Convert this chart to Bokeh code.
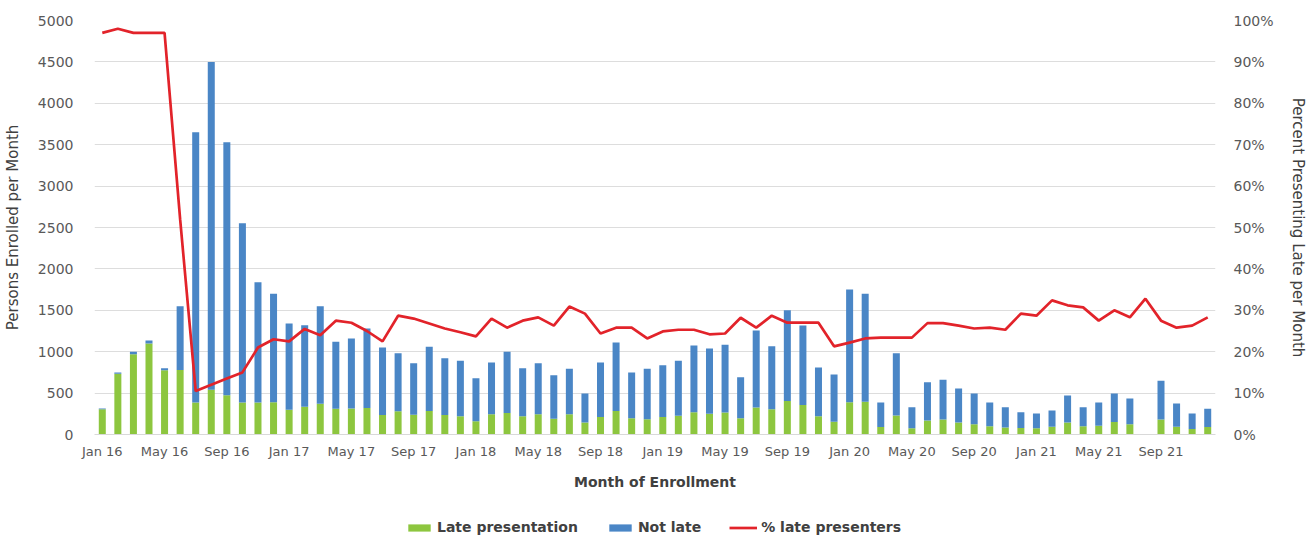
from bokeh.plotting import figure
from bokeh.layouts import column
from bokeh.models import (Range1d, LinearAxis, FixedTicker, PrintfTickFormatter,
                          Legend, LegendItem, ColumnDataSource)
from bokeh.embed import file_html
from bokeh.resources import INLINE

months = ["Jan 16","Feb 16","Mar 16","Apr 16","May 16","Jun 16","Jul 16","Aug 16","Sep 16","Oct 16","Nov 16","Dec 16",
          "Jan 17","Feb 17","Mar 17","Apr 17","May 17","Jun 17","Jul 17","Aug 17","Sep 17","Oct 17","Nov 17","Dec 17",
          "Jan 18","Feb 18","Mar 18","Apr 18","May 18","Jun 18","Jul 18","Aug 18","Sep 18","Oct 18","Nov 18","Dec 18",
          "Jan 19","Feb 19","Mar 19","Apr 19","May 19","Jun 19","Jul 19","Aug 19","Sep 19","Oct 19","Nov 19","Dec 19",
          "Jan 20","Feb 20","Mar 20","Apr 20","May 20","Jun 20","Jul 20","Aug 20","Sep 20","Oct 20","Nov 20","Dec 20",
          "Jan 21","Feb 21","Mar 21","Apr 21","May 21","Jun 21","Jul 21","Aug 21","Sep 21","Oct 21","Nov 21","Dec 21"]

late = [305, 735, 970, 1100, 775, 780, 385, 540, 475, 385, 385, 390,
        300, 335, 370, 310, 315, 320, 235, 280, 240, 285, 235, 220,
        160, 245, 260, 220, 245, 190, 245, 145, 210, 285, 195, 185,
        210, 225, 270, 250, 265, 195, 325, 305, 405, 355, 220, 155,
        390, 395, 90, 230, 75, 170, 180, 145, 125, 100, 85, 80,
        75, 95, 145, 100, 105, 150, 125, 0, 180, 95, 65, 90]

not_late = [10, 15, 30, 35, 25, 770, 3265, 3960, 3055, 2165, 1455, 1310,
            1040, 985, 1180, 810, 845, 960, 815, 700, 620, 775, 685, 670,
            520, 625, 740, 580, 615, 525, 550, 350, 660, 825, 555, 610,
            625, 665, 805, 790, 820, 495, 930, 760, 1095, 960, 590, 570,
            1360, 1305, 295, 750, 255, 460, 480, 410, 370, 285, 245, 190,
            180, 195, 325, 230, 280, 345, 310, 0, 470, 280, 190, 220]

pct_late = [97, 98, 97, 97, 97, 52, 10.5, 12, 13.5, 15, 21, 23,
            22.5, 25.5, 24, 27.5, 27, 25, 22.5, 28.7, 28, 26.8, 25.6, 24.7,
            23.7, 28, 25.8, 27.5, 28.3, 26.3, 30.9, 29.2, 24.4, 25.8, 25.8, 23.2,
            24.9, 25.3, 25.3, 24.2, 24.4, 28.2, 25.8, 28.7, 27, 27, 27, 21.3,
            22.2, 23.2, 23.4, 23.4, 23.4, 26.9, 26.9, 26.3, 25.6, 25.8, 25.3, 29.2,
            28.7, 32.4, 31.2, 30.7, 27.5, 30, 28.3, 32.8, 27.5, 25.8, 26.3, 28.3]

tick_labels = ["Jan 16","May 16","Sep 16","Jan 17","May 17","Sep 17","Jan 18","May 18","Sep 18",
               "Jan 19","May 19","Sep 19","Jan 20","May 20","Sep 20","Jan 21","May 21","Sep 21"]

series_names = ["Late presentation", "Not late", "% late presenters"]

idx = list(range(len(months)))
tick_pos = [months.index(t) for t in tick_labels]

src = ColumnDataSource(dict(x=idx, late=late, not_late=not_late, pct=pct_late))

FONT = "DejaVu Sans"
GREEN = "#8DC63F"
BLUE = "#4A86C6"
RED = "#E2232A"
TXT = "#595959"

W = 1309
p = figure(width=W, height=516, output_backend="svg", toolbar_location=None,
           x_range=Range1d(-0.5, len(months) - 0.5), y_range=Range1d(0, 5000),
           min_border_left=92, min_border_right=93, min_border_top=20, min_border_bottom=82)
p.outline_line_color = None
p.extra_y_ranges = {"pct": Range1d(0, 100)}

bars = p.vbar_stack(["late", "not_late"], x="x", width=0.45, source=src,
                    color=[GREEN, BLUE], line_color=None)
ln = p.line("x", "pct", source=src, y_range_name="pct", line_color=RED, line_width=2.7)

# axes
p.xaxis.ticker = FixedTicker(ticks=tick_pos)
p.xaxis.major_label_overrides = {i: t for i, t in zip(tick_pos, tick_labels)}
p.xaxis.axis_label = "Month of Enrollment"
p.xaxis.axis_label_text_font_style = "bold"
p.xaxis.axis_label_text_font_size = "14px"
p.xaxis.axis_label_standoff = 12
p.xaxis.major_label_text_font_size = "13px"
p.xaxis.major_label_standoff = 3
p.xaxis.axis_line_color = "#D9D9D9"
p.xaxis.major_tick_line_color = None
p.xaxis.minor_tick_line_color = None

p.yaxis.ticker = FixedTicker(ticks=list(range(0, 5001, 500)))
p.yaxis.axis_label = "Persons Enrolled per Month"
p.yaxis.axis_line_color = None
p.yaxis.major_tick_line_color = None
p.yaxis.minor_tick_line_color = None
p.yaxis.major_label_text_font_size = "14px"
p.yaxis.major_label_standoff = 15
p.yaxis.axis_label_text_font_size = "15px"
p.yaxis.axis_label_standoff = 13
p.yaxis.axis_label_text_font_style = "normal"

ra = LinearAxis(y_range_name="pct", ticker=FixedTicker(ticks=list(range(0, 101, 10))),
                formatter=PrintfTickFormatter(format="%d%%"),
                axis_label="Percent Presenting Late per Month")
ra.axis_line_color = None
ra.major_tick_line_color = None
ra.minor_tick_line_color = None
ra.major_label_text_font_size = "14px"
ra.major_label_standoff = 12
ra.axis_label_text_font_size = "15px"
ra.axis_label_standoff = 12
ra.axis_label_text_font_style = "normal"
p.add_layout(ra, "right")

for ax in [p.xaxis[0], p.yaxis[0], ra]:
    ax.major_label_text_font = FONT
    ax.axis_label_text_font = FONT
    ax.major_label_text_color = TXT
    ax.axis_label_text_color = "#404040"

p.xgrid.grid_line_color = None
p.ygrid.grid_line_color = "#DDDDDD"
p.ygrid.grid_line_width = 1

# legend strip below the chart (dummy glyphs kept outside the visible range)
lf = figure(width=W, height=22, output_backend="svg", toolbar_location=None,
            x_range=Range1d(0, 1), y_range=Range1d(0, 1),
            min_border_left=0, min_border_right=0, min_border_top=0, min_border_bottom=0)
lf.axis.visible = False
lf.grid.visible = False
lf.outline_line_color = None
g1 = lf.vbar(x=[-5], top=[-5], width=0.1, color=GREEN, line_color=None)
g2 = lf.vbar(x=[-5], top=[-5], width=0.1, color=BLUE, line_color=None)
g3 = lf.line(x=[-5, -4], y=[-5, -5], line_color=RED, line_width=2.7)

legend = Legend(items=[LegendItem(label=series_names[0], renderers=[g1]),
                       LegendItem(label=series_names[1], renderers=[g2]),
                       LegendItem(label=series_names[2], renderers=[g3])],
                orientation="horizontal", location=(311, 3),
                border_line_color=None, background_fill_alpha=0,
                padding=0, margin=0, spacing=28,
                glyph_width=28, glyph_height=9, label_standoff=4,
                label_text_font=FONT, label_text_font_size="14px",
                label_text_font_style="bold", label_text_color="#404040")
lf.add_layout(legend, "center")

layout = column(p, lf, spacing=0)
open("out.html", "w").write(file_html(layout, INLINE))
